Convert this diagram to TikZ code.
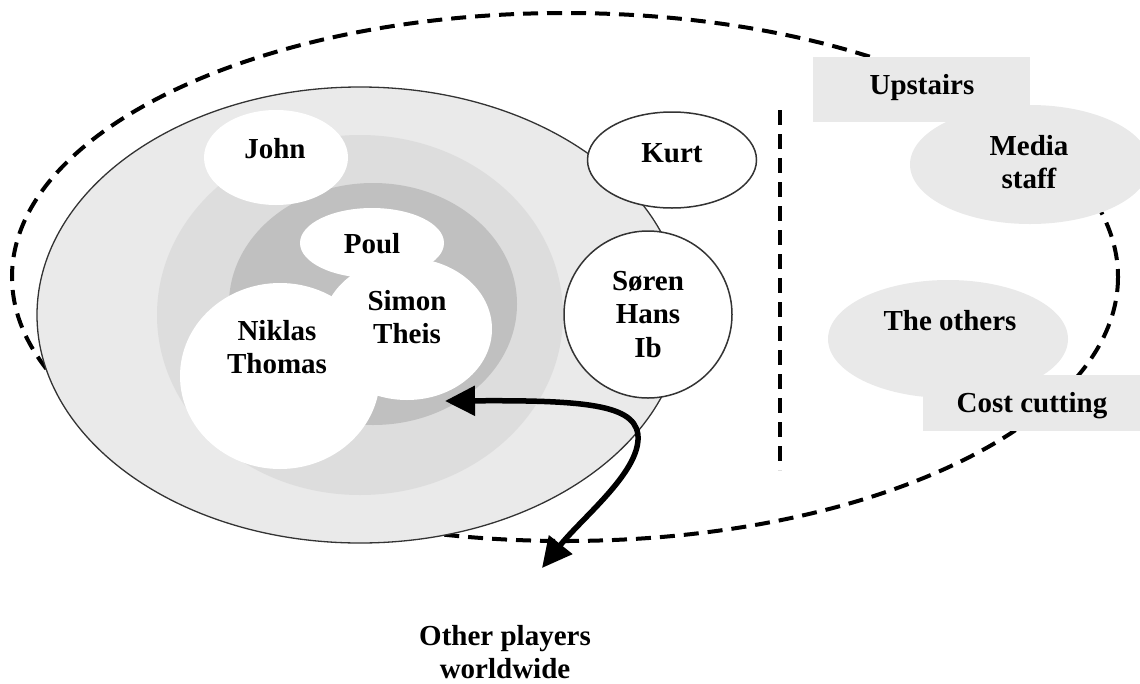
\documentclass[tikz,border=0pt]{standalone}
\usepackage{fontspec}
\setmainfont{Liberation Serif}
\usetikzlibrary{arrows.meta}

\definecolor{ringouter}{HTML}{EAEAEA}
\definecolor{ringmiddle}{HTML}{DDDDDD}
\definecolor{ringinner}{HTML}{C0C0C0}
\definecolor{staffgrey}{HTML}{E9E9E9}
\definecolor{rim}{HTML}{333333}

\begin{document}
\begin{tikzpicture}[x=1pt, y=-1pt,
    playertext/.style={font=\bfseries\fontsize{29}{33.5}\selectfont, inner sep=0pt},
    playerlines/.style={playertext, align=center},
    outerdash/.style={line width=4pt, dash pattern=on 15pt off 9pt},
    bothway/.style={line width=5.5pt, {Triangle[length=30pt,width=29pt]}-{Triangle[length=30pt,width=29pt]}}]

    \useasboundingbox (0,0) rectangle (1140,683);

    % Dashed outer boundary
    \draw[outerdash] (565,277) ellipse [x radius=553, y radius=264];

    % Club rings
    \filldraw[fill=ringouter, draw=rim, line width=1.3pt] (360,315) ellipse [x radius=323, y radius=228];
    \fill[ringmiddle] (360,315) ellipse [x radius=203, y radius=180];
    \fill[ringinner] (373,304) ellipse [x radius=144, y radius=121];

    % White blobs for the players
    \def\blobs{276/157.5/72/47.5, 372/243/72/35, 407/329/85/71, 280/376/100/93}
    \foreach \cx/\cy/\rx/\ry in \blobs {
        \fill[white] (\cx,\cy) ellipse [x radius=\rx, y radius=\ry];
    }

    % Kurt and the group next to him
    \filldraw[fill=white, draw=rim, line width=1.5pt] (672,160) ellipse [x radius=84.5, y radius=48];
    \filldraw[fill=white, draw=rim, line width=1.5pt] (648,314.5) ellipse [x radius=84, y radius=83.5];

    % Dividing line
    \draw[outerdash] (780,110) -- (780,470);

    % Staff side
    \fill[staffgrey] (813,57) rectangle (1030,122);
    \fill[staffgrey] (1030,164.5) ellipse [x radius=120, y radius=59.5];
    \fill[staffgrey] (948,339) ellipse [x radius=120, y radius=59];
    \fill[staffgrey] (923,375) rectangle (1140,431);

    % Names
    \node[playertext, anchor=base] (john) at (275,158) {John};
    \node[playertext, anchor=base] (poul) at (372,253) {Poul};
    \node[playerlines] (simon) at (407,317) {Simon\\Theis};
    \node[playerlines] (niklas) at (277,347) {Niklas\\Thomas};
    \node[playertext, anchor=base] (kurt) at (672,162) {Kurt};
    \node[playerlines] (soren) at (648,314.5) {Søren\\Hans\\Ib};
    \node[playertext, anchor=base] (upstairs) at (922,94) {Upstairs};
    \node[playerlines] (media) at (1029,162) {Media\\staff};
    \node[playertext, anchor=base] (others) at (950,330) {The others};
    \node[playertext, anchor=base] (cost) at (1032,412) {Cost cutting};
    \node[playerlines] (world) at (505,652) {Other players\\worldwide};

    % Two-way arrow
    \coordinate (intip) at (445,401);
    \coordinate (outtip) at (542,568);
    \draw[bothway] (intip) .. controls (590,400) and (640,405) .. (638,440)
        .. controls (636,475) and (582,518) .. (outtip);

\end{tikzpicture}
\end{document}
